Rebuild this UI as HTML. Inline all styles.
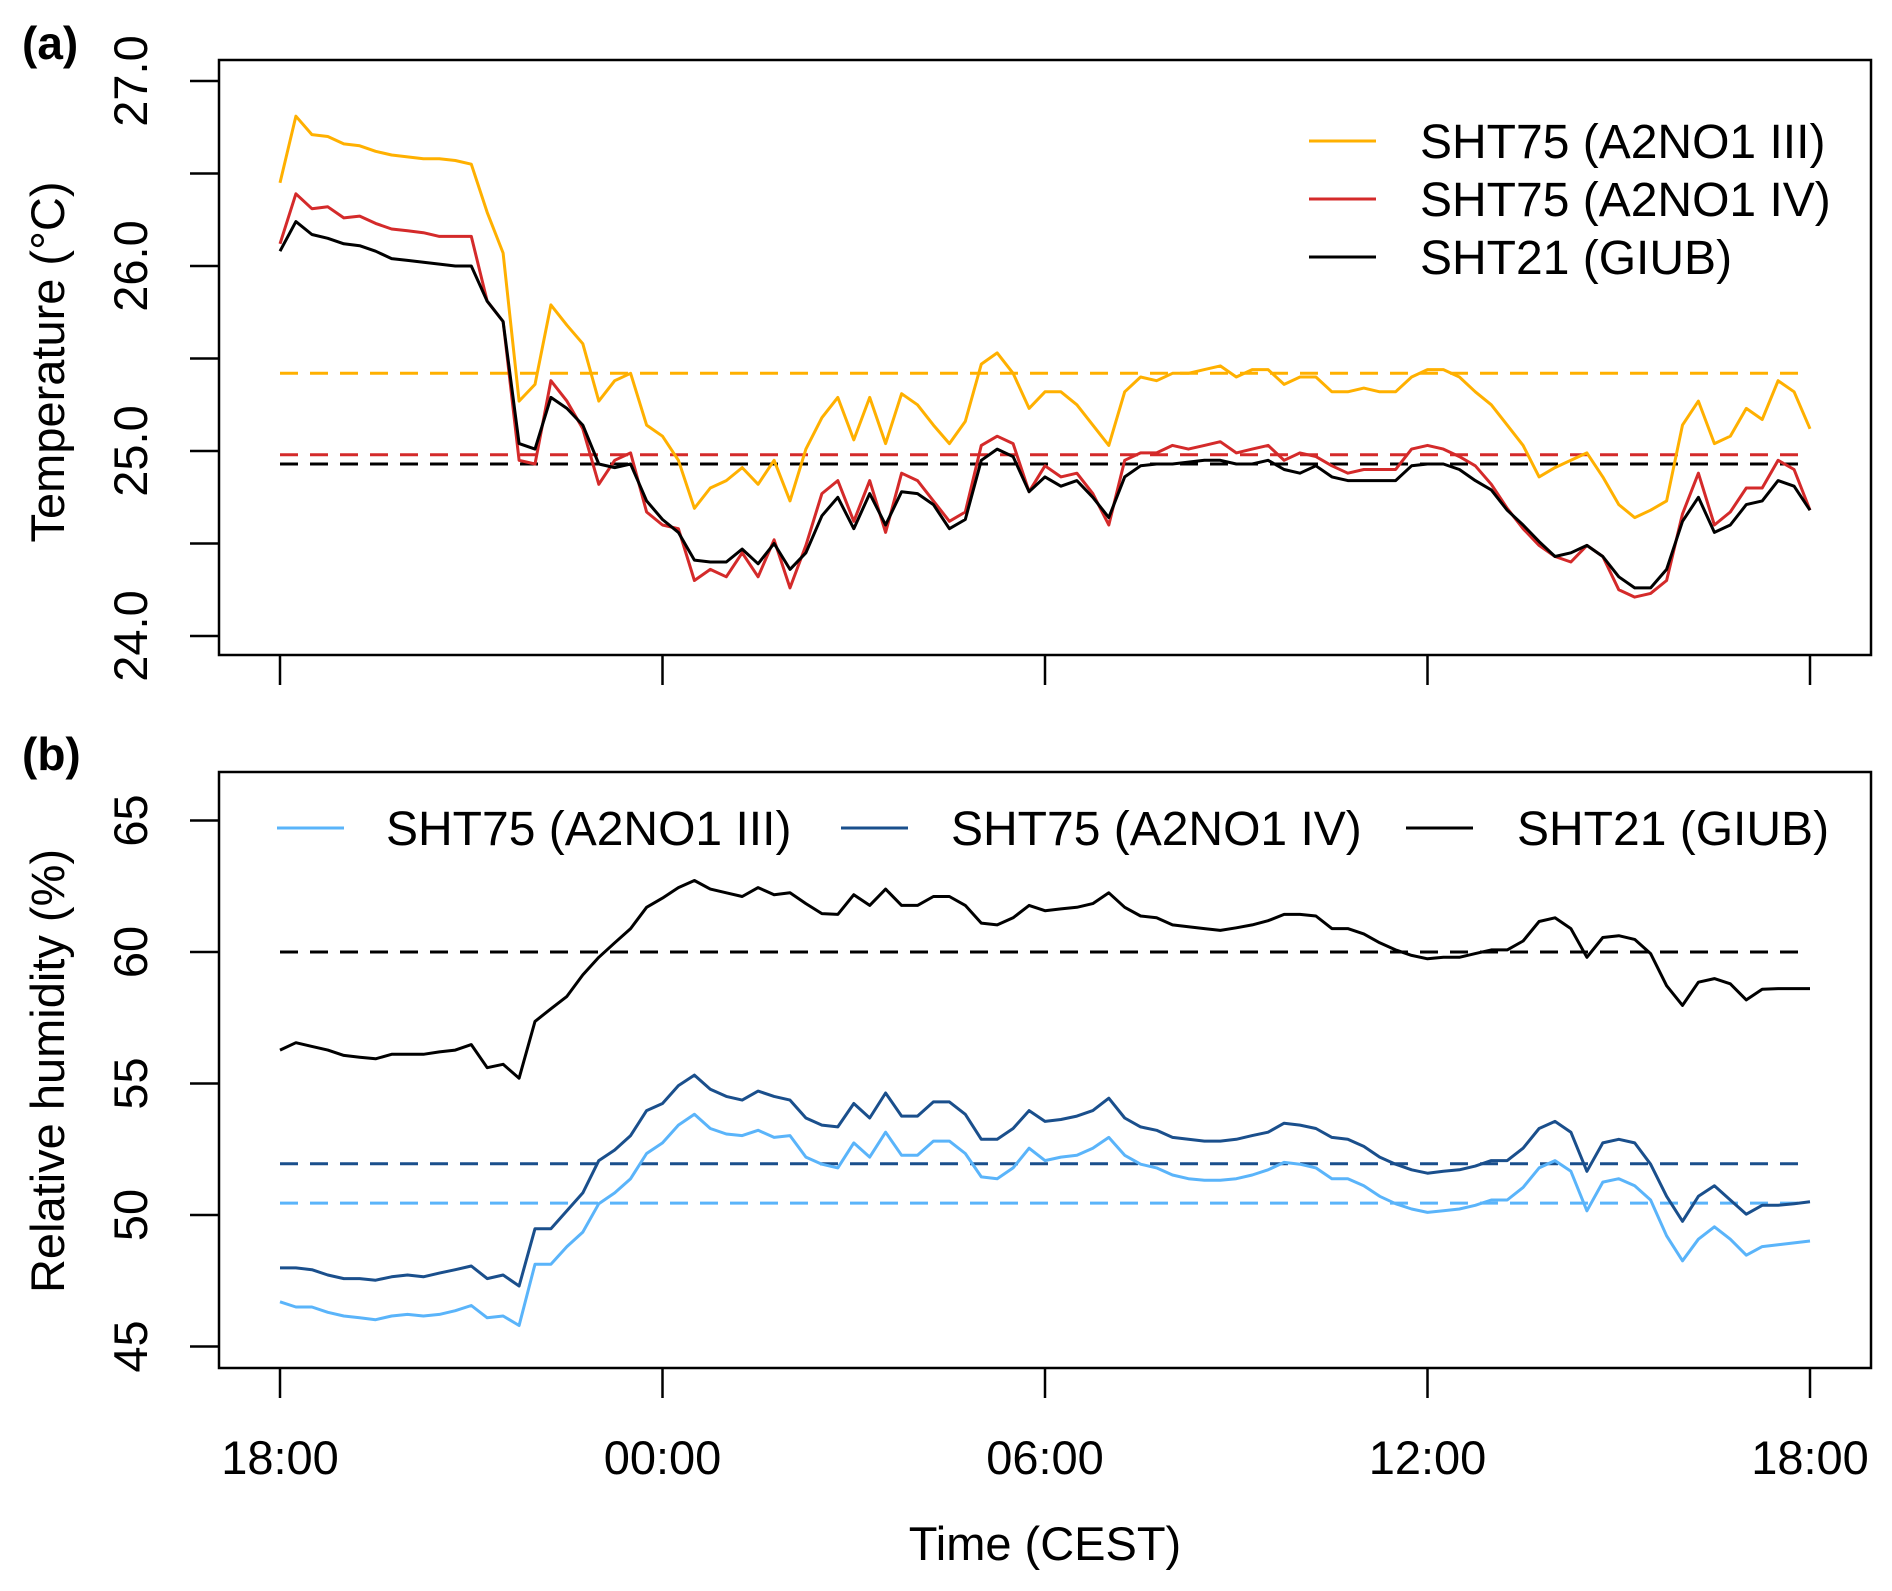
<!DOCTYPE html>
<html><head><meta charset="utf-8"><style>
html,body{margin:0;padding:0;background:#fff;}
svg{display:block;font-family:"Liberation Sans",Arial,sans-serif;}
</style></head><body>
<svg id="chart" width="1892" height="1591" viewBox="0 0 1892 1591" xmlns="http://www.w3.org/2000/svg">
<rect width="1892" height="1591" fill="#fff"/>
<g id="topPanel"></g>
<g id="botPanel"></g>
<text x="22" y="59" font-size="46" font-weight="bold">(a)</text>
<text x="22" y="770" font-size="46" font-weight="bold">(b)</text>
<text x="1045" y="1560" font-size="47" text-anchor="middle">Time (CEST)</text>
<text transform="translate(64,362) rotate(-90)" font-size="47" text-anchor="middle">Temperature (°C)</text>
<text transform="translate(64,1071) rotate(-90)" font-size="47" text-anchor="middle">Relative humidity (%)</text>
</svg>
<script>
const hoursStep = 0.25;
const xTickLabels = ["18:00","00:00","06:00","12:00","18:00"];
const xTickHours = [0,6,12,18,24];
const tempTicks = [24.0,24.5,25.0,25.5,26.0,26.5,27.0];
const tempTickLabels = ["24.0","","25.0","","26.0","","27.0"];
const rhTicks = [45,50,55,60,65];
const rhTickLabels = ["45","50","55","60","65"];
const tempMeans = [25.42,24.98,24.93];
const rhMeans = [50.45,51.95,60.0];
const tempNames = ["SHT75 (A2NO1 III)","SHT75 (A2NO1 IV)","SHT21 (GIUB)"];
const rhNames = ["SHT75 (A2NO1 III)","SHT75 (A2NO1 IV)","SHT21 (GIUB)"];
const tempYellow = [26.45,26.81,26.71,26.70,26.66,26.65,26.62,26.60,26.59,26.58,26.58,26.57,26.55,26.29,26.07,25.27,25.36,25.79,25.68,25.58,25.27,25.38,25.42,25.14,25.08,24.95,24.69,24.80,24.84,24.91,24.82,24.95,24.73,25.01,25.18,25.29,25.06,25.29,25.04,25.31,25.25,25.14,25.04,25.16,25.47,25.53,25.42,25.23,25.32,25.32,25.25,25.14,25.03,25.32,25.40,25.38,25.42,25.42,25.44,25.46,25.40,25.44,25.44,25.36,25.40,25.40,25.32,25.32,25.34,25.32,25.32,25.40,25.44,25.44,25.40,25.32,25.25,25.14,25.03,24.86,24.91,24.95,24.99,24.86,24.71,24.64,24.68,24.73,25.14,25.27,25.04,25.08,25.23,25.17,25.38,25.32,25.12];
const tempRed = [26.12,26.39,26.31,26.32,26.26,26.27,26.23,26.20,26.19,26.18,26.16,26.16,26.16,25.81,25.70,24.95,24.93,25.38,25.27,25.12,24.82,24.95,24.99,24.67,24.60,24.58,24.30,24.36,24.32,24.45,24.32,24.52,24.26,24.49,24.77,24.84,24.62,24.84,24.56,24.88,24.84,24.73,24.62,24.67,25.03,25.08,25.04,24.78,24.92,24.86,24.88,24.77,24.60,24.95,24.99,24.99,25.03,25.01,25.03,25.05,24.99,25.01,25.03,24.95,24.99,24.97,24.92,24.88,24.90,24.90,24.90,25.01,25.03,25.01,24.97,24.92,24.82,24.69,24.58,24.49,24.43,24.40,24.49,24.43,24.25,24.21,24.23,24.30,24.66,24.88,24.60,24.67,24.80,24.80,24.95,24.90,24.68];
const tempBlack = [26.08,26.24,26.17,26.15,26.12,26.11,26.08,26.04,26.03,26.02,26.01,26.00,26.00,25.81,25.70,25.04,25.01,25.29,25.23,25.14,24.93,24.91,24.93,24.73,24.63,24.56,24.41,24.40,24.40,24.47,24.39,24.50,24.36,24.45,24.65,24.75,24.58,24.77,24.60,24.78,24.77,24.71,24.58,24.63,24.95,25.01,24.97,24.78,24.86,24.81,24.84,24.75,24.64,24.86,24.92,24.93,24.93,24.94,24.95,24.95,24.93,24.93,24.95,24.90,24.88,24.92,24.86,24.84,24.84,24.84,24.84,24.92,24.93,24.93,24.90,24.84,24.79,24.68,24.60,24.51,24.43,24.45,24.49,24.43,24.32,24.26,24.26,24.36,24.62,24.75,24.56,24.60,24.71,24.73,24.84,24.81,24.68];
const rhLight = [46.70,46.50,46.50,46.30,46.16,46.09,46.02,46.16,46.22,46.16,46.22,46.36,46.56,46.09,46.16,45.80,48.13,48.13,48.80,49.35,50.43,50.84,51.38,52.34,52.74,53.42,53.83,53.29,53.08,53.02,53.22,52.95,53.02,52.20,51.93,51.79,52.74,52.20,53.15,52.27,52.27,52.81,52.81,52.34,51.45,51.38,51.79,52.54,52.07,52.20,52.27,52.54,52.95,52.27,51.93,51.79,51.52,51.38,51.32,51.32,51.38,51.52,51.72,52.00,51.93,51.79,51.38,51.38,51.11,50.71,50.43,50.23,50.10,50.16,50.23,50.37,50.57,50.57,51.05,51.79,52.07,51.66,50.16,51.25,51.38,51.11,50.57,49.21,48.26,49.08,49.55,49.08,48.47,48.80,48.87,48.94,49.01];
const rhDark = [47.99,47.99,47.92,47.72,47.58,47.58,47.52,47.65,47.72,47.65,47.79,47.92,48.06,47.58,47.72,47.30,49.48,49.48,50.16,50.84,52.07,52.47,53.02,53.97,54.24,54.92,55.32,54.78,54.51,54.37,54.71,54.51,54.37,53.69,53.42,53.35,54.24,53.69,54.64,53.76,53.76,54.30,54.30,53.83,52.88,52.88,53.29,53.97,53.56,53.63,53.76,53.97,54.44,53.69,53.35,53.22,52.95,52.88,52.81,52.81,52.88,53.02,53.15,53.49,53.42,53.29,52.95,52.88,52.61,52.20,51.93,51.72,51.59,51.66,51.72,51.86,52.07,52.07,52.54,53.29,53.56,53.15,51.66,52.74,52.88,52.74,51.93,50.71,49.76,50.71,51.11,50.57,50.03,50.37,50.37,50.43,50.50];
const rhBlack = [56.27,56.55,56.41,56.27,56.07,56.00,55.94,56.11,56.11,56.11,56.20,56.27,56.48,55.60,55.73,55.20,57.36,57.84,58.31,59.13,59.80,60.35,60.89,61.70,62.05,62.45,62.72,62.39,62.25,62.11,62.45,62.18,62.25,61.84,61.46,61.43,62.18,61.77,62.39,61.77,61.77,62.11,62.11,61.77,61.10,61.03,61.30,61.77,61.57,61.64,61.70,61.84,62.25,61.70,61.37,61.30,61.03,60.96,60.89,60.82,60.92,61.03,61.19,61.43,61.43,61.37,60.89,60.89,60.69,60.35,60.08,59.87,59.74,59.80,59.80,59.94,60.08,60.08,60.42,61.16,61.30,60.89,59.80,60.55,60.62,60.48,59.94,58.72,57.97,58.85,58.99,58.79,58.18,58.58,58.61,58.61,58.61];

const NS = "http://www.w3.org/2000/svg";
const C = {yellow:"#FFB000", red:"#D42A2A", black:"#000", light:"#5AB4FA", dark:"#1A4F8C"};
const X0 = 280, PXH = 63.75;
function xs(h){ return X0 + h*PXH; }
function yT(v){ return 81 + (27 - v)*185; }
function yH(v){ return 820.5 + (65 - v)*26.3; }
function mk(tag, attrs, parent){
  const e = document.createElementNS(NS, tag);
  for (const k in attrs) e.setAttribute(k, attrs[k]);
  parent.appendChild(e);
  return e;
}
function drawPanel(g, box, ticks, labels, yf, seriesList, colors, means, meanColors, name){
  const r = mk("rect", {x:box[0], y:box[1], width:box[2]-box[0], height:box[3]-box[1], fill:"none", stroke:"#000", "stroke-width":2.5}, g);
  
  
  ticks.forEach((t,i)=>{
    const y = yf(t);
    const l = mk("line", {x1:190, x2:box[0], y1:y, y2:y, stroke:"#000", "stroke-width":2.5}, g);
    
    
    if (labels[i]) {
      const tx = mk("text", {transform:"translate(147,"+y+") rotate(-90)", "font-size":47, "text-anchor":"middle"}, g);
      tx.textContent = labels[i];
      
      
    }
  });
  xTickHours.forEach((h,i)=>{
    const x = xs(h);
    const l = mk("line", {x1:x, x2:x, y1:box[3], y2:box[3]+30, stroke:"#000", "stroke-width":2.5}, g);
    
    
  });
  means.forEach((m,i)=>{
    const y = yf(m);
    const l = mk("line", {x1:xs(0), x2:xs(24), y1:y, y2:y, stroke:meanColors[i], "stroke-width":3, "stroke-dasharray":"18 12"}, g);
    
    
  });
  seriesList.forEach((s,i)=>{
    const pts = s.map((v,j)=> xs(j*hoursStep).toFixed(1)+","+yf(v).toFixed(1)).join(" ");
    const p = mk("polyline", {points:pts, fill:"none", stroke:colors[i], "stroke-width":3, "stroke-linejoin":"round"}, g);
    
    
  });
}
const topG = document.getElementById("topPanel"), botG = document.getElementById("botPanel");
drawPanel(topG, [219,60,1871,655], tempTicks, tempTickLabels, yT, [tempYellow,tempRed,tempBlack], [C.yellow,C.red,C.black], tempMeans, [C.yellow,C.red,C.black], "temperature");
drawPanel(botG, [219,772,1871,1368], rhTicks, rhTickLabels, yH, [rhLight,rhDark,rhBlack], [C.light,C.dark,C.black], rhMeans, [C.light,C.dark,C.black], "humidity");
xTickHours.forEach((h,i)=>{
  const t = mk("text", {x:xs(h), y:1474, "font-size":47, "text-anchor":"middle"}, botG);
  t.textContent = xTickLabels[i];
  
  
});
const topCols = [C.yellow,C.red,C.black];
[141,199,257].forEach((y,i)=>{
  const l = mk("line", {x1:1309, x2:1376, y1:y, y2:y, stroke:topCols[i], "stroke-width":3}, topG);
  
  
  const t = mk("text", {x:1420, y:y+17, "font-size":48}, topG);
  t.textContent = tempNames[i];
  
  
});
const botCols = [C.light,C.dark,C.black];
[[277,386],[841,951],[1406,1517]].forEach((p,i)=>{
  const l = mk("line", {x1:p[0], x2:p[0]+67, y1:828, y2:828, stroke:botCols[i], "stroke-width":3}, botG);
  
  
  const t = mk("text", {x:p[1], y:845, "font-size":48}, botG);
  t.textContent = rhNames[i];
  
  
});
</script>
</body></html>
